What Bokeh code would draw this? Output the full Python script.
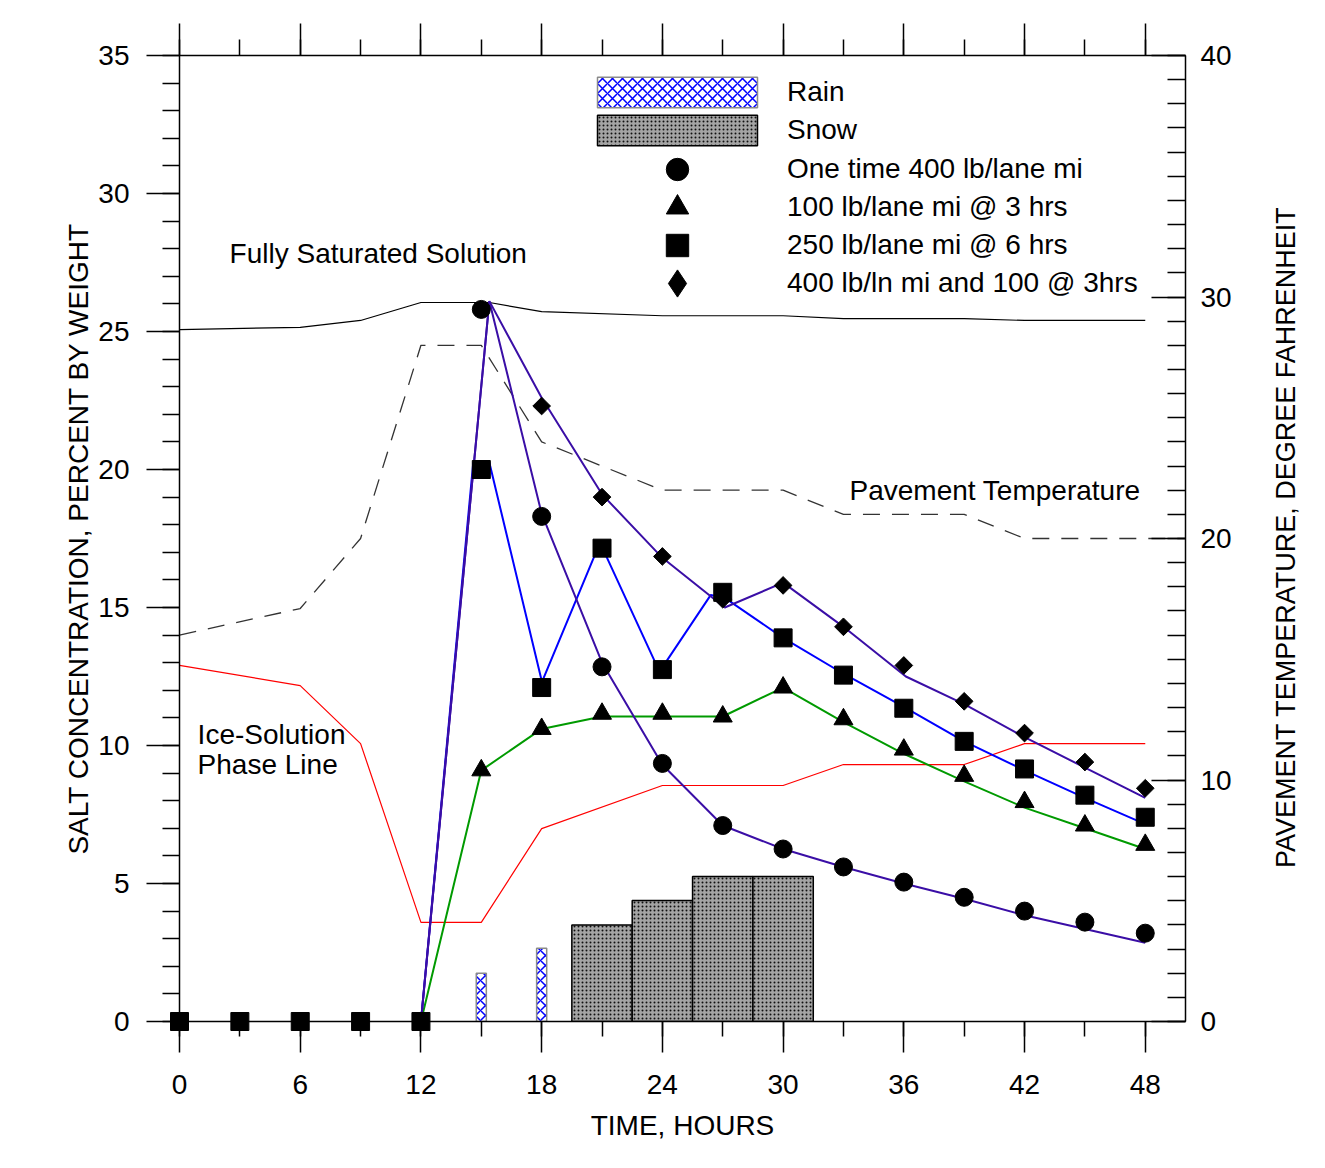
import math
from bokeh.plotting import figure
from bokeh.models import Range1d, LinearAxis, FixedTicker, Label, Legend, LegendItem
from bokeh.core.properties import value
from bokeh.embed import file_html
from bokeh.resources import INLINE

# ---------------- data ----------------
# measured markers (salt concentration, % by weight)
circle_hours = [15, 18, 21, 24, 27, 30, 33, 36, 39, 42, 45, 48]
circle_vals = [25.8, 18.3, 12.85, 9.35, 7.1, 6.25, 5.6, 5.05, 4.5, 4.0, 3.6, 3.2]

triangle_hours = [15, 18, 21, 24, 27, 30, 33, 36, 39, 42, 45, 48]
triangle_vals = [9.1, 10.6, 11.15, 11.15, 11.05, 12.1, 10.95, 9.85, 8.9, 7.95, 7.1, 6.4]

square_hours = [0, 3, 6, 9, 12, 15, 18, 21, 24, 27, 30, 33, 36, 39, 42, 45, 48]
square_vals = [0, 0, 0, 0, 0, 20.0, 12.1, 17.15, 12.75, 15.55, 13.9, 12.55, 11.35, 10.15, 9.15, 8.2, 7.4]

diamond_hours = [18, 21, 24, 27, 30, 33, 36, 39, 42, 45, 48]
diamond_vals = [22.3, 19.0, 16.85, 15.3, 15.8, 14.3, 12.9, 11.6, 10.45, 9.4, 8.45]

# model curves
circle_line_x = [12, 15.4, 18, 21, 24, 27, 30, 33, 36, 39, 42, 45, 48]
circle_line_y = [0, 26.1, 18.4, 13.0, 9.3, 7.1, 6.25, 5.6, 5.0, 4.45, 3.85, 3.35, 2.85]

diamond_line_x = [12, 15.4, 18, 21, 24, 27.1, 30, 33, 36.1, 39, 42, 45, 48]
diamond_line_y = [0, 26.1, 22.6, 19.1, 16.8, 15.0, 15.9, 14.3, 12.5, 11.5, 10.3, 9.2, 8.1]

square_line_x = [12, 14.6, 15.4, 18.1, 18.1, 20.9, 23.65, 23.65, 26.4, 27.1, 30, 33, 36, 39, 42, 45, 48]
square_line_y = [0, 20.25, 20.25, 12.05, 12.45, 17.35, 13.0, 12.45, 15.45, 15.35, 13.9, 12.6, 11.4, 10.15, 9.1, 8.1, 7.15]

triangle_line_x = [12, 15, 18, 21, 24, 27, 30, 33, 36, 39, 42, 45, 48]
triangle_line_y = [0, 9.1, 10.6, 11.05, 11.05, 11.05, 12.1, 10.85, 9.7, 8.7, 7.75, 7.0, 6.25]

# fully saturated solution
sat_x = [0, 6, 9, 12, 15.4, 18, 24, 30, 33, 39, 42, 48]
sat_y = [25.07, 25.15, 25.4, 26.05, 26.05, 25.72, 25.57, 25.57, 25.47, 25.47, 25.4, 25.4]

# ice-solution phase line
phase_x = [0, 6, 9, 12, 15, 18, 24, 30, 33, 39, 42, 48]
phase_y = [12.9, 12.17, 10.07, 3.59, 3.59, 6.99, 8.55, 8.55, 9.31, 9.31, 10.07, 10.07]

# pavement temperature (deg F, right axis)
temp_x = [0, 6, 9, 12, 15, 18, 24, 30, 33, 39, 42, 50]
temp_y = [16.0, 17.1, 20.0, 28.0, 28.0, 24.0, 22.0, 22.0, 21.0, 21.0, 20.0, 20.0]

# precipitation bars
rain_hours = [15, 18]
rain_amount = [1.75, 2.65]
snow_hours = [21, 24, 27, 30]
snow_amount = [3.5, 4.38, 5.25, 5.25]

x_major = [0, 6, 12, 18, 24, 30, 36, 42, 48]
x_minor = list(range(0, 49, 3))
y_major = [0, 5, 10, 15, 20, 25, 30, 35]
y_minor = list(range(0, 36))
t_major = [0, 10, 20, 30, 40]
t_minor = list(range(0, 41))

legend_labels = ["Rain", "Snow", "One time 400 lb/lane mi", "100 lb/lane mi @ 3 hrs",
                 "250 lb/lane mi @ 6 hrs", "400 lb/ln mi and 100 @ 3hrs"]
right_title = "PAVEMENT TEMPERATURE, DEGREE FAHRENHEIT"

FONT = "Liberation Sans"
FS = "28px"
PURPLE = "#3a0ea6"

# ---------------- figure ----------------
p = figure(width=1325, height=1168, output_backend="svg", toolbar_location=None,
           x_range=Range1d(0, 50), y_range=Range1d(0, 35),
           min_border_left=179, min_border_right=140, min_border_top=55, min_border_bottom=147)
p.extra_y_ranges = {"temp": Range1d(0, 40)}
p.xgrid.visible = False
p.ygrid.visible = False
p.outline_line_color = None
p.background_fill_color = "white"
p.border_fill_color = "white"


def style_axis(ax):
    ax.axis_line_color = "black"
    ax.axis_line_width = 1.5
    ax.major_tick_line_color = "black"
    ax.minor_tick_line_color = "black"
    ax.major_tick_line_width = 1.5
    ax.minor_tick_line_width = 1.5
    ax.major_label_text_font = FONT
    ax.major_label_text_font_size = FS
    ax.major_label_text_color = "black"
    ax.axis_label_text_font = FONT
    ax.axis_label_text_font_size = FS
    ax.axis_label_text_font_style = "normal"
    ax.axis_label_text_color = "black"


xb = p.xaxis[0]
style_axis(xb)
xb.ticker = FixedTicker(ticks=x_major, minor_ticks=x_minor)
xb.major_tick_out = 31
xb.major_tick_in = 0
xb.minor_tick_out = 15
xb.minor_tick_in = 0
xb.major_label_standoff = 22
xb.axis_label = "TIME, HOURS"
xb.axis_label_standoff = 13

yl = p.yaxis[0]
style_axis(yl)
yl.ticker = FixedTicker(ticks=y_major, minor_ticks=y_minor)
yl.major_tick_out = 33
yl.major_tick_in = 0
yl.minor_tick_out = 17
yl.minor_tick_in = 0
yl.major_label_standoff = 17
yl.axis_label = "SALT CONCENTRATION, PERCENT BY WEIGHT"
yl.axis_label_standoff = 1

# top axis: ticks only
xt = LinearAxis(ticker=FixedTicker(ticks=x_major, minor_ticks=x_minor))
style_axis(xt)
xt.major_tick_out = 32
xt.major_tick_in = 0
xt.minor_tick_out = 16
xt.minor_tick_in = 0
xt.major_label_text_font_size = "1px"
xt.major_label_text_color = None
xt.major_label_standoff = 0
p.add_layout(xt, "above")

# right axis: temperature, ticks pointing inward
yr = LinearAxis(y_range_name="temp", ticker=FixedTicker(ticks=t_major, minor_ticks=t_minor))
style_axis(yr)
yr.major_tick_in = 34
yr.major_tick_out = 0
yr.minor_tick_in = 18
yr.minor_tick_out = 0
yr.major_label_standoff = 15
p.add_layout(yr, "right")

# right axis title, reading bottom-to-top like the left one
p.text(x=[55.0], y=[17.55], text=[right_title], angle=math.pi / 2,
       text_align="center", text_baseline="middle", text_font=value(FONT),
       text_font_size=value("27px"), text_color="black", level="overlay")

# ---------------- precipitation bars ----------------
rain_r = p.vbar(x=rain_hours, top=rain_amount, bottom=0, width=0.5,
                fill_color="white", hatch_pattern="diagonal_cross", hatch_color="#0000ff",
                hatch_scale=10, hatch_weight=1.5, line_color="#8a8a8a", line_width=1.5)
snow_r = p.vbar(x=snow_hours, top=snow_amount, bottom=0, width=3,
                fill_color="#a4a4a4", hatch_pattern="dot", hatch_color="#101010",
                hatch_scale=4, hatch_weight=1, line_color="black", line_width=1.5)

# ---------------- reference lines ----------------
p.line(sat_x, sat_y, line_color="black", line_width=1.2)
p.line(phase_x, phase_y, line_color="#ff0000", line_width=1.2)
p.line(temp_x, temp_y, y_range_name="temp", line_color="#333333", line_width=1.3, line_dash="17 12")

# ---------------- model curves ----------------
p.line(triangle_line_x, triangle_line_y, line_color="#009a00", line_width=2)
p.line(square_line_x, square_line_y, line_color="#0000ff", line_width=2)
p.line(circle_line_x, circle_line_y, line_color=PURPLE, line_width=2)
p.line(diamond_line_x, diamond_line_y, line_color=PURPLE, line_width=2)

# ---------------- markers ----------------
circ_r = p.scatter(circle_hours, circle_vals, marker="circle", size=18, color="black", level="overlay")
tri_r = p.scatter(triangle_hours, triangle_vals, marker="triangle", size=19, color="black", level="overlay")
sq_r = p.scatter(square_hours, square_vals, marker="square", size=18, color="black", level="overlay")
dia_r = p.scatter(diamond_hours, diamond_vals, marker="square", angle=math.pi / 4, size=12.5,
                  color="black", level="overlay")
# legend symbol for the diamond series (the legend ignores marker rotation)
dia_leg_r = p.scatter(diamond_hours, diamond_vals, marker="diamond", size=18, color="black",
                      visible=False)

# ---------------- annotations ----------------
for txt, lx, ly in [("Fully Saturated Solution", 2.49, 27.83),
                    ("Pavement Temperature", 33.3, 19.24),
                    ("Ice-Solution", 0.9, 10.4),
                    ("Phase Line", 0.9, 9.31)]:
    p.add_layout(Label(x=lx, y=ly, text=txt, text_baseline="middle", text_align="left",
                       text_font=FONT, text_font_size=FS, text_color="black"))

# ---------------- legends ----------------
common = dict(glyph_width=200, label_standoff=10, padding=0, margin=0, spacing=0,
              border_line_color=None, background_fill_alpha=0, inactive_fill_alpha=0,
              label_text_font=FONT, label_text_font_size=FS, label_text_color="black")

leg1 = Legend(items=[LegendItem(label=legend_labels[0], renderers=[rain_r]),
                     LegendItem(label=legend_labels[1], renderers=[snow_r])],
              location=(398, 872), glyph_height=38, **common)
p.add_layout(leg1, "center")

# one small legend per marker row so the symbols keep a readable size
for lab, rend, gh, yc in [(legend_labels[2], circ_r, 56, 169),
                          (legend_labels[3], tri_r, 56, 207),
                          (legend_labels[4], sq_r, 56, 245),
                          (legend_labels[5], dia_leg_r, 68, 283)]:
    leg = Legend(items=[LegendItem(label=lab, renderers=[rend])],
                 location=(398, 1021 - yc - gh // 2), glyph_height=gh, **common)
    p.add_layout(leg, "center")

open("out.html", "w").write(file_html(p, INLINE))
